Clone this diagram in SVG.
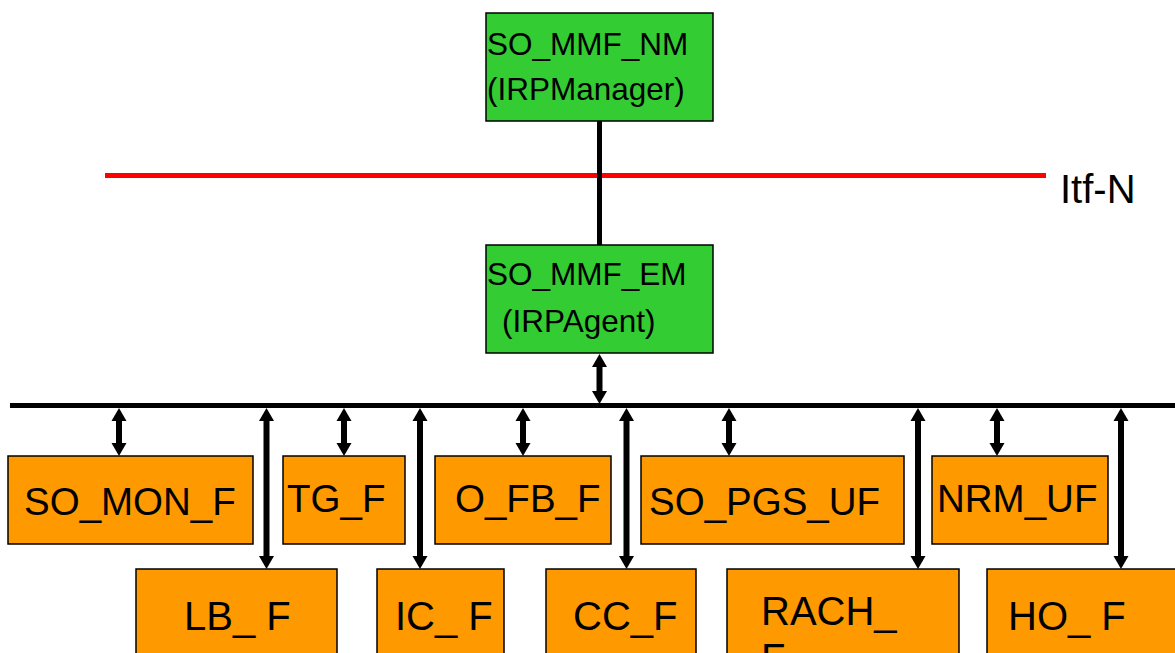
<svg xmlns="http://www.w3.org/2000/svg" width="1175" height="653" viewBox="0 0 1175 653">
<defs>
<style>
.g{fill:#33CC33;stroke:#000;stroke-width:1.5}
.o{fill:#FF9900;stroke:#000;stroke-width:1.5}
.t{font-family:"Liberation Sans",Arial,sans-serif;fill:#000}
.gt{font-size:31.5px}
.ut{font-size:38.5px}
.lt{font-size:40px}
.a{stroke:#000;stroke-width:6;fill:none;marker-start:url(#ah);marker-end:url(#ah)}
</style>
<marker id="ah" viewBox="0 -8 14 16" refX="0" refY="0" markerWidth="14" markerHeight="16" markerUnits="userSpaceOnUse" orient="auto-start-reverse" overflow="visible">
<path d="M0,-7.5 L13,0 L0,7.5 z" fill="#000"/>
</marker>
</defs>
<rect width="1175" height="653" fill="#fff"/>
<g id="lines">
<line x1="105" y1="175.5" x2="1046" y2="175.5" stroke="#FF0000" stroke-width="5"/>
<line x1="599.5" y1="121" x2="599.5" y2="245" stroke="#000" stroke-width="5"/>
<line x1="10" y1="405.5" x2="1175" y2="405.5" stroke="#000" stroke-width="5"/>
</g>
<g id="connectors">
<line class="a" x1="599.5" y1="367" x2="599.5" y2="391"/>
<line class="a" x1="119" y1="421" x2="119" y2="443"/>
<line class="a" x1="344" y1="421" x2="344" y2="443"/>
<line class="a" x1="523" y1="421" x2="523" y2="443"/>
<line class="a" x1="729" y1="421" x2="729" y2="443"/>
<line class="a" x1="997" y1="421" x2="997" y2="443"/>
<line class="a" x1="266.5" y1="421" x2="266.5" y2="556"/>
<line class="a" x1="420" y1="421" x2="420" y2="556"/>
<line class="a" x1="626.5" y1="421" x2="626.5" y2="556"/>
<line class="a" x1="918" y1="421" x2="918" y2="556"/>
<line class="a" x1="1121" y1="421" x2="1121" y2="556"/>
</g>
<g id="itfn"><text class="t" x="1060" y="203" font-size="40">Itf-N</text></g>
<g id="nm">
<rect class="g" x="486" y="13" width="227" height="108"/>
<text class="t gt" x="487" y="55">SO_MMF_NM</text>
<text class="t gt" x="487" y="100">(IRPManager)</text>
</g>
<g id="em">
<rect class="g" x="486" y="245" width="227" height="108"/>
<text class="t gt" x="487" y="285">SO_MMF_EM</text>
<text class="t gt" x="502" y="332">(IRPAgent)</text>
</g>
<g id="so_mon_f">
<rect class="o" x="8" y="456" width="245" height="88"/>
<text class="t ut" x="24" y="515">SO_MON_F</text>
</g>
<g id="tg_f">
<rect class="o" x="283" y="456" width="122" height="88"/>
<text class="t ut" x="287" y="512">TG_F</text>
</g>
<g id="o_fb_f">
<rect class="o" x="435" y="456" width="176" height="88"/>
<text class="t ut" x="455" y="512">O_FB_F</text>
</g>
<g id="so_pgs_uf">
<rect class="o" x="641" y="456" width="263" height="88"/>
<text class="t ut" x="649" y="515">SO_PGS_UF</text>
</g>
<g id="nrm_uf">
<rect class="o" x="932" y="456" width="176" height="88"/>
<text class="t ut" x="937" y="512">NRM_UF</text>
</g>
<g id="lb_f">
<rect class="o" x="136" y="569" width="201" height="100"/>
<text class="t lt" x="184" y="630">LB_ F</text>
</g>
<g id="ic_f">
<rect class="o" x="377" y="569" width="127" height="100"/>
<text class="t lt" x="395" y="630">IC_ F</text>
</g>
<g id="cc_f">
<rect class="o" x="546" y="569" width="150" height="100"/>
<text class="t lt" x="573" y="630">CC_F</text>
</g>
<g id="rach_f">
<rect class="o" x="727" y="569" width="232" height="100"/>
<text class="t lt" x="761" y="625">RACH_</text>
<text class="t lt" x="761" y="672">F</text>
</g>
<g id="ho_f">
<rect class="o" x="987" y="569" width="200" height="100"/>
<text class="t lt" x="1008" y="630">HO_ F</text>
</g>
</svg>
